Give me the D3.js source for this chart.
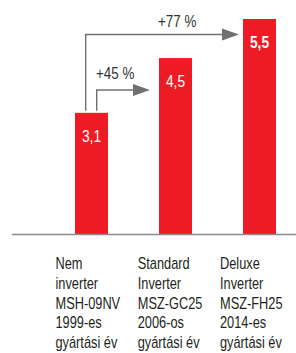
<!DOCTYPE html>
<html>
<head>
<meta charset="utf-8">
<script src="https://cdn.jsdelivr.net/npm/d3@7"></script>
<style>
  html, body { margin: 0; padding: 0; background: #fff; }
  svg { display: block; font-family: "Liberation Sans", Arial, sans-serif; }
</style>
</head>
<body>
<div id="chart"></div>
<script>
// data
const categories = ['nem', 'standard', 'deluxe'];
const values = [3.1, 4.5, 5.5];
const valueLabels = ['3,1', '4,5', '5,5'];
const categoryLines = [
    ['Nem', 'inverter', 'MSH-09NV', '1999-es', 'gyártási év'],
    ['Standard', 'Inverter', 'MSZ-GC25', '2006-os', 'gyártási év'],
    ['Deluxe', 'Inverter', 'MSZ-FH25', '2014-es', 'gyártási év']
];
const growthLabels = ['+45 %', '+77 %'];
const growthTargets = [1, 2];

const width = 296, height = 353;
const red = '#ed1c24', grey = '#707070';
const squeeze = 0.8; // the original uses a condensed face

const svg = d3.select('#chart')
    .append('svg')
    .attr('width', width)
    .attr('height', height);

// scales
const x = d3.scalePoint()
    .domain(categories)
    .range([91.5, 259.5]);

const y = d3.scaleLinear()
    .domain([0, 5.5])
    .range([234, 19]);

const barW = 33;

// bars
svg.selectAll('rect.bar')
    .data(values)
    .enter()
    .append('rect')
    .attr('class', 'bar')
    .attr('x', (d, i) => x(categories[i]) - barW / 2)
    .attr('y', d => y(d))
    .attr('width', barW)
    .attr('height', d => y(0) - y(d))
    .attr('fill', red);

// value labels
svg.selectAll('text.val')
    .data(values)
    .enter()
    .append('text')
    .attr('class', 'val')
    .attr('transform', (d, i) => `translate(${x(categories[i])},${y(d) + 29}) scale(0.86,1)`)
    .attr('text-anchor', 'middle')
    .attr('fill', '#fff')
    .style('font-size', '16px')
    .style('font-weight', (d, i) => i === 2 ? 'bold' : 'normal')
    .text((d, i) => valueLabels[i]);

// baseline
svg.append('line')
    .attr('x1', 12).attr('x2', width)
    .attr('y1', y(0) + 0.5).attr('y2', y(0) + 0.5)
    .attr('stroke', '#8a8a8a')
    .attr('stroke-width', 1.6);

// growth arrows
const arrowLayout = [
    { dx: 5.2, yLine: 90, gap: 9, lx: 96, ly: 79 },
    { dx: -5.8, yLine: 34.5, gap: 4, lx: 158, ly: 27 }
];

growthLabels.forEach((lab, i) => {
    const a = arrowLayout[i];
    const x0 = x(categories[0]) + a.dx;
    const tgt = growthTargets[i];
    const tipX = x(categories[tgt]) - barW / 2 - a.gap;
    const headL = 17, headH = 6;
    svg.append('path')
        .attr('d', `M${x0},${y(values[0]) - 2} L${x0},${a.yLine} L${tipX - headL + 1},${a.yLine}`)
        .attr('fill', 'none')
        .attr('stroke', grey)
        .attr('stroke-width', 1.4);
    svg.append('path')
        .attr('d', `M${tipX - headL},${a.yLine - headH} L${tipX},${a.yLine} L${tipX - headL},${a.yLine + headH} Z`)
        .attr('fill', grey);
    svg.append('text')
        .attr('transform', `translate(${a.lx},${a.ly}) scale(0.84,1)`)
        .attr('fill', '#333')
        .style('font-size', '16px')
        .text(lab);
});

// category labels
const lx = d3.scalePoint()
    .domain(categories)
    .range([55.5, 220]);

categoryLines.forEach((lines, i) => {
    const t = svg.append('text')
        .attr('transform', `translate(${lx(categories[i])},269) scale(${squeeze},1)`)
        .attr('fill', '#231f20')
        .style('font-size', '16px');
    lines.forEach((ln, j) => {
        t.append('tspan')
            .attr('x', 0)
            .attr('y', j * 19.8)
            .text(ln);
    });
});
</script>
</body>
</html>
